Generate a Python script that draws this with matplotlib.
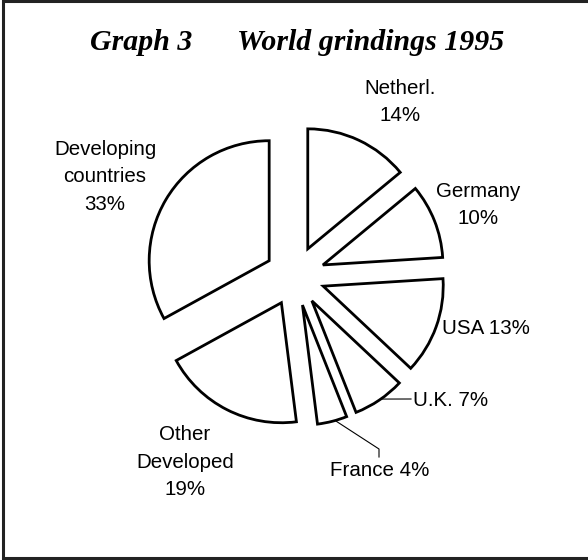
import numpy as np
import matplotlib.pyplot as plt

# Данные
countries = ['Netherl.', 'Germany', 'USA', 'U.K.', 'France',
             'Other\nDeveloped', 'Developing\ncountries']
shares = [14, 10, 13, 7, 4, 19, 33]
label_texts = ['Netherl.\n14%', 'Germany\n10%', 'USA 13%', 'U.K. 7%',
               'France 4%', 'Other\nDeveloped\n19%', 'Developing\ncountries\n33%']

# Разметка (пиксели картинки, ось y вниз)
W, H = 588, 560
center = (295, H - 276)
radius = 120
gap = 30
label_pos = [(400, 102, 'center'), (478, 205, 'center'), (442, 328, 'left'),
             (413, 400, 'left'), (380, 470, 'center'), (185, 462, 'center'),
             (105, 177, 'center')]

fig = plt.figure(figsize=(W / 100, H / 100), dpi=100)
ax = fig.add_axes([0, 0, 1, 1])

wedges, _ = ax.pie(shares, startangle=90, counterclock=False, radius=radius,
                   center=center, explode=[gap] * len(shares),
                   wedgeprops=dict(facecolor='white', edgecolor='black', linewidth=2.0))
ax.set_xlim(0, W)
ax.set_ylim(0, H)
ax.set_aspect('equal')
ax.axis('off')

label_font = dict(family=['Liberation Sans', 'DejaVu Sans'], fontsize=14.8,
                  linespacing=1.55)
for txt, (x, y, ha) in zip(label_texts, label_pos):
    ax.text(x, H - y, txt, ha=ha, va='center', **label_font)

# Выноски для U.K. и France
def arc_mid(w):
    th = np.deg2rad((w.theta1 + w.theta2) / 2)
    cx, cy = w.center
    return cx + w.r * np.cos(th), cy + w.r * np.sin(th)

ux, uy = arc_mid(wedges[3])
ax.plot([ux + 3, 411], [uy + 1, H - 399], color='black', lw=0.8)
fx, fy = arc_mid(wedges[4])
ax.plot([fx + 4, 379, 379], [fy, H - 449, H - 457], color='black', lw=0.8)

# Заголовок
title_font = dict(family=['Liberation Serif', 'DejaVu Serif'], fontsize=21.5,
                  fontweight='bold', style='italic', va='baseline')
ax.text(90, H - 50, 'Graph 3', ha='left', **title_font)
ax.text(237, H - 50, 'World grindings 1995', ha='left', **title_font)

# Рамка
ax.plot([W, 2.5, 2.5, W], [H - 1, H - 1, H - 558, H - 558], color='#222222', lw=2.2,
        solid_joinstyle='miter', clip_on=False)

fig.savefig('out.png', dpi=100)
